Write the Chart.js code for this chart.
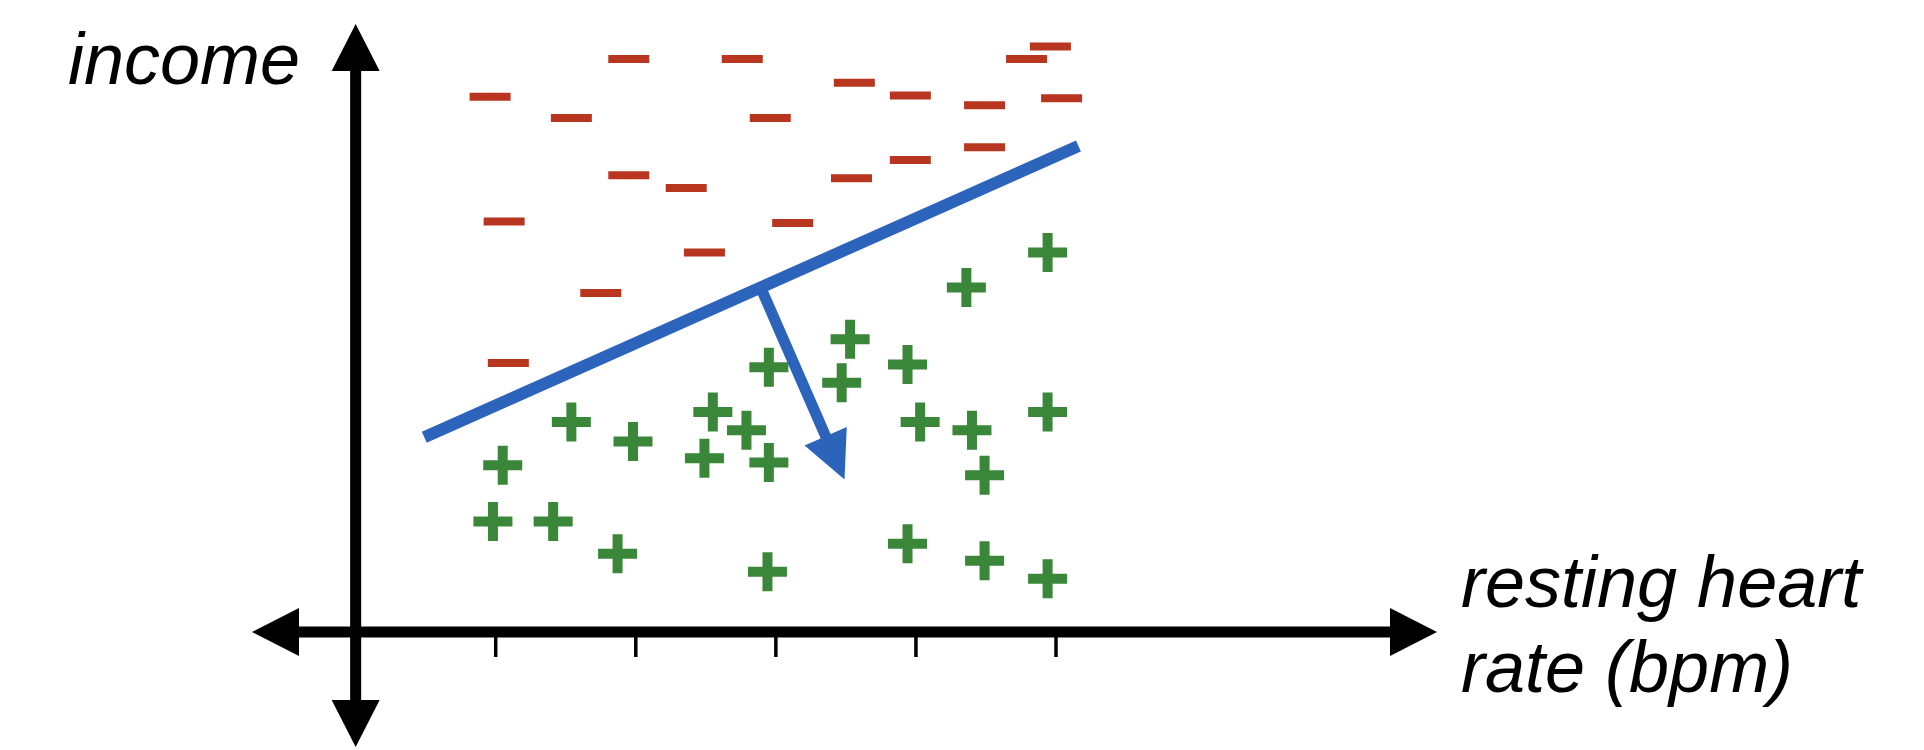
<!DOCTYPE html>
<html lang="en">
<head>
  <meta charset="UTF-8">
  <title>Linear classifier</title>
  <script src="https://cdn.jsdelivr.net/npm/chart.js@4.4.0/dist/chart.umd.min.js"></script>
  <style>
    * {
      margin: 0;
      padding: 0;
      box-sizing: border-box;
    }
    body {
      background: #fff;
      width: 1924px;
      height: 750px;
      overflow: hidden;
    }
    .wrap {
      width: 1924px;
      height: 750px;
    }
    canvas {
      display: block;
    }
  </style>
</head>
<body>
  <div class="wrap">
    <canvas id="chart" width="1924" height="750"></canvas>
  </div>

  <script>
    // negative class (−)
    const minusX = [0.96, 1.95, 1.54, 1.95, 1.06, 1.75, 1.09, 2.76, 3.56, 3.96, 4.49,
                    4.79, 4.96, 5.04, 2.96, 2.36, 3.54, 3.96, 4.49, 3.12, 2.49];
    const minusY = [3.82, 4.09, 3.67, 3.26, 2.93, 2.42, 1.92, 4.09, 3.92, 3.83, 3.76,
                    4.09, 4.18, 3.81, 3.67, 3.17, 3.24, 3.37, 3.46, 2.92, 2.71];

    // positive class (+)
    const plusX = [4.94, 4.36, 3.53, 2.95, 3.94, 3.47, 2.55, 1.54, 2.79, 4.03, 4.40, 4.94,
                   1.98, 2.49, 2.95, 1.05, 4.49, 0.98, 1.41, 1.87, 3.94, 4.49, 2.94, 4.94];
    const plusY = [2.71, 2.46, 2.09, 1.89, 1.91, 1.78, 1.57, 1.50, 1.44, 1.50, 1.44, 1.57,
                   1.36, 1.24, 1.21, 1.19, 1.12, 0.79, 0.79, 0.56, 0.63, 0.51, 0.43, 0.38];

    // decision boundary and its normal vector
    const boundaryX = [0.49, 5.16];
    const boundaryY = [1.39, 3.47];
    const normalX = [2.90, 3.49];
    const normalY = [2.44, 1.09];

    const xTicks = [1, 2, 3, 4, 5];
    const xTitle = ['resting heart', 'rate (bpm)'];
    const yTitle = 'income';

    const RED = '#b8361f';
    const GREEN = '#3b873a';
    const BLUE = '#2c63bb';

    const toPoints = (xs, ys) => xs.map((x, i) => ({ x: x, y: ys[i] }));

    function arrowHead(ctx, tx, ty, ang, len, half) {
      ctx.beginPath();
      ctx.moveTo(tx, ty);
      ctx.lineTo(tx - Math.cos(ang) * len - Math.sin(ang) * half, ty - Math.sin(ang) * len + Math.cos(ang) * half);
      ctx.lineTo(tx - Math.cos(ang) * len + Math.sin(ang) * half, ty - Math.sin(ang) * len - Math.cos(ang) * half);
      ctx.closePath();
      ctx.fill();
    }

    const axesPlugin = {
      id: 'axes',
      beforeDatasetsDraw(chart) {
        const ctx = chart.ctx;
        const xs = chart.scales.x, ys = chart.scales.y;
        const x0 = xs.getPixelForValue(0), y0 = ys.getPixelForValue(0);
        const left = xs.getPixelForValue(xs.min), right = xs.getPixelForValue(xs.max);
        const top = ys.getPixelForValue(ys.max), bottom = ys.getPixelForValue(ys.min);
        const head = 47, half = 24;
        ctx.save();
        ctx.fillStyle = '#000';
        ctx.strokeStyle = '#000';
        ctx.lineWidth = 11;
        ctx.beginPath();
        ctx.moveTo(left + head - 2, y0);
        ctx.lineTo(right - head + 2, y0);
        ctx.moveTo(x0, top + head - 2);
        ctx.lineTo(x0, bottom - head + 2);
        ctx.stroke();
        arrowHead(ctx, right, y0, 0, head, half);
        arrowHead(ctx, left, y0, Math.PI, head, half);
        arrowHead(ctx, x0, top, -Math.PI / 2, head, half);
        arrowHead(ctx, x0, bottom, Math.PI / 2, head, half);

        ctx.lineWidth = 3.5;
        ctx.beginPath();
        xTicks.forEach(v => {
          const px = xs.getPixelForValue(v);
          ctx.moveTo(px, y0);
          ctx.lineTo(px, y0 + 25);
        });
        ctx.stroke();

        ctx.font = 'italic 72px "Liberation Sans", Arial, sans-serif';
        ctx.textBaseline = 'alphabetic';
        ctx.textAlign = 'left';
        ctx.fillText(yTitle, 68, 84);
        ctx.fillText(xTitle[0], right + 24, y0 - 25);
        ctx.fillText(xTitle[1], right + 24, y0 + 60);
        ctx.restore();
      },
      afterDatasetsDraw(chart) {
        const ctx = chart.ctx;
        const xs = chart.scales.x, ys = chart.scales.y;
        const sx = xs.getPixelForValue(normalX[0]), sy = ys.getPixelForValue(normalY[0]);
        const tx = xs.getPixelForValue(normalX[1]), ty = ys.getPixelForValue(normalY[1]);
        const ang = Math.atan2(ty - sy, tx - sx);
        const head = 47, half = 23;
        ctx.save();
        ctx.strokeStyle = BLUE;
        ctx.fillStyle = BLUE;
        ctx.lineWidth = 11;
        ctx.beginPath();
        ctx.moveTo(sx, sy);
        ctx.lineTo(tx - Math.cos(ang) * (head - 2), ty - Math.sin(ang) * (head - 2));
        ctx.stroke();
        arrowHead(ctx, tx, ty, ang, head, half);
        ctx.restore();
      }
    };

    new Chart(document.getElementById('chart'), {
      type: 'scatter',
      data: {
        datasets: [
          {
            label: 'negative',
            data: toPoints(minusX, minusY),
            pointStyle: 'line',
            pointRadius: 20.5,
            pointHoverRadius: 20.5,
            pointBorderWidth: 8,
            pointHoverBorderWidth: 8,
            borderColor: RED,
            backgroundColor: RED
          },
          {
            label: 'positive',
            data: toPoints(plusX, plusY),
            pointStyle: 'cross',
            pointRadius: 19.5,
            pointHoverRadius: 19.5,
            pointBorderWidth: 10,
            pointHoverBorderWidth: 10,
            borderColor: GREEN,
            backgroundColor: GREEN
          },
          {
            label: 'boundary',
            data: toPoints(boundaryX, boundaryY),
            showLine: true,
            pointRadius: 0,
            pointHoverRadius: 0,
            borderWidth: 12,
            borderColor: BLUE,
            backgroundColor: BLUE
          }
        ]
      },
      options: {
        responsive: false,
        devicePixelRatio: 1,
        animation: false,
        events: [],
        layout: {
          autoPadding: false,
          padding: { left: 252, right: 487, top: 24, bottom: 3 }
        },
        plugins: {
          legend: { display: false },
          tooltip: { enabled: false }
        },
        scales: {
          x: { type: 'linear', min: -0.74, max: 7.72, display: false },
          y: { type: 'linear', min: -0.82, max: 4.34, display: false }
        }
      },
      plugins: [axesPlugin]
    });
  </script>
</body>
</html>
